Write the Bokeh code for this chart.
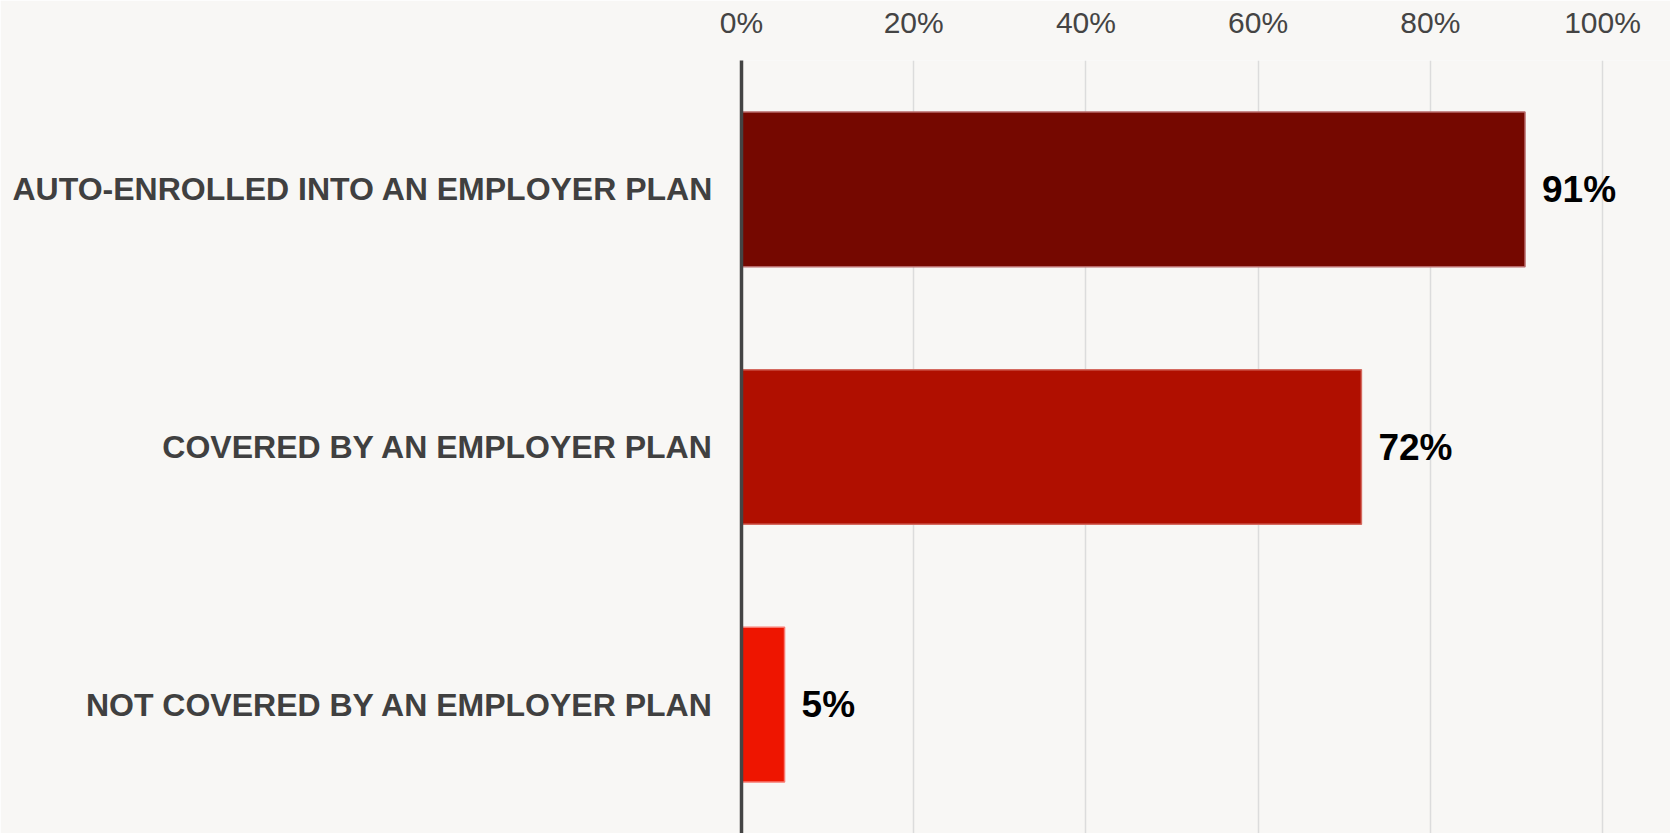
from bokeh.plotting import figure
from bokeh.models import ColumnDataSource, Range1d, FactorRange, FixedTicker, CustomJSTickFormatter
from bokeh.core.properties import value
from bokeh.embed import file_html
from bokeh.resources import INLINE

categories = ["AUTO-ENROLLED INTO AN EMPLOYER PLAN",
              "COVERED BY AN EMPLOYER PLAN",
              "NOT COVERED BY AN EMPLOYER PLAN"]
values = [91, 72, 5]
colors = ["#750800", "#b00f00", "#ee1500"]
edge_colors = ["#b86a6a", "#d46a60", "#f87a70"]
labels = [f"{v}%" for v in values]
x_ticks = [0, 20, 40, 60, 80, 100]

W, H = 1670, 833
left, top = 741, 60
px_per_pct = 8.61
x_end = (W - left) / px_per_pct

src = ColumnDataSource(dict(cat=categories, val=values, color=colors,
                            edge=edge_colors, label=labels))

p = figure(width=W, height=H, output_backend="svg", toolbar_location=None,
           y_range=FactorRange(factors=list(reversed(categories)), range_padding=0),
           x_range=Range1d(0, x_end), x_axis_location="above",
           min_border_left=left, min_border_top=top, min_border_right=0,
           min_border_bottom=0, background_fill_color="#f8f7f5",
           border_fill_color="#f8f7f5", outline_line_color=None)

p.hbar(y="cat", right="val", height=0.6, left=0, source=src,
       fill_color="color", line_color="edge", line_width=1.5)

p.text(x="val", y="cat", text="label", source=src, x_offset=17,
       text_baseline="middle", text_align="left",
       text_font=value("Liberation Sans"), text_font_style="bold",
       text_font_size="37px", text_color="#000000")

# x axis (top)
xa = p.xaxis[0]
xa.ticker = FixedTicker(ticks=x_ticks)
xa.formatter = CustomJSTickFormatter(code="return tick + '%';")
xa.axis_line_color = None
xa.major_tick_line_color = None
xa.minor_tick_line_color = None
xa.major_tick_out = 0
xa.major_tick_in = 0
xa.major_label_text_font = "Liberation Sans"
xa.major_label_text_font_size = "30px"
xa.major_label_text_color = "#444444"
xa.major_label_text_line_height = 0.9
xa.major_label_standoff = 22

# y axis (left)
ya = p.yaxis[0]
ya.axis_line_color = "#444444"
ya.axis_line_width = 3.5
ya.major_tick_line_color = None
ya.minor_tick_line_color = None
ya.major_tick_out = 0
ya.major_tick_in = 0
ya.major_label_text_font = "Liberation Sans"
ya.major_label_text_font_style = "bold"
ya.major_label_text_font_size = "32px"
ya.major_label_text_color = "#404040"
ya.major_label_standoff = 28

p.xgrid.grid_line_color = "#dcdcdc"
p.xgrid.grid_line_width = 1.5
p.xgrid.ticker = FixedTicker(ticks=x_ticks)
p.ygrid.grid_line_color = None

open("out.html", "w").write(file_html(p, INLINE))
